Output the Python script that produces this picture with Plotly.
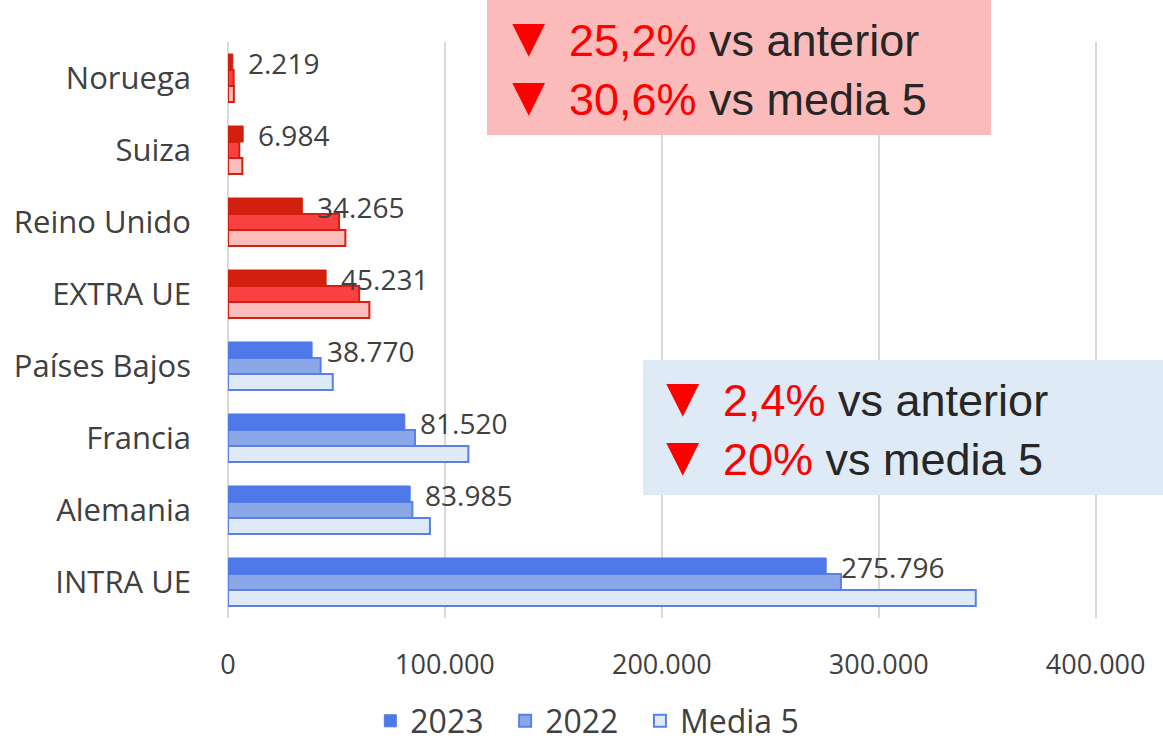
import plotly.graph_objects as go

categories = ["INTRA UE", "Alemania", "Francia", "Países Bajos", "EXTRA UE", "Reino Unido", "Suiza", "Noruega"]
v2023 = [275796, 83985, 81520, 38770, 45231, 34265, 6984, 2219]
v2022 = [282578, 85000, 86200, 42700, 60469, 51200, 5200, 2600]
vmedia5 = [344745, 93100, 110800, 48300, 65174, 54100, 6600, 2700]
labels2023 = ["275.796", "83.985", "81.520", "38.770", "45.231", "34.265", "6.984", "2.219"]
is_eu = [True, True, True, True, False, False, False, False]
xtickvals = [0, 100000, 200000, 300000, 400000]
xticktext = ["0", "100.000", "200.000", "300.000", "400.000"]
series_names = ["Media 5", "2022", "2023"]

box_red_lines = [("25,2%", "vs anterior"), ("30,6%", "vs media 5")]
box_blue_lines = [("2,4%", "vs anterior"), ("20%", "vs media 5")]

BLUE = {"2023": "#4F79E8", "2022": "#8AA8E8", "Media 5": "#DEEAF6", "line": "#5A80E8"}
RED = {"2023": "#D21F0E", "2022": "#F94141", "Media 5": "#FBBCBC", "line": "#D42010"}

W, H = 1163, 742
L, R, T, B = 228, 24, 42, 124
PW, PH = W - L - R, H - T - B


def px(x):
    return (x - L) / PW


def py(y):
    return 1 - (y - T) / PH


TXT = "#404040"
FONT = "'Open Sans', 'Noto Sans', sans-serif"
BOXFONT = "'Liberation Sans', Arial, sans-serif"

fig = go.Figure()
for name, vals in zip(series_names, [vmedia5, v2022, v2023]):
    fills = [(BLUE if eu else RED)[name] for eu in is_eu]
    if name == "2023":
        lines = fills
        lw = 1
    else:
        lines = [(BLUE if eu else RED)["line"] for eu in is_eu]
        lw = 2
    legend_name = name if name == "Media 5" else name + "\u00a0\u00a0"
    fig.add_trace(go.Bar(
        name=legend_name, y=categories, x=vals, orientation="h",
        marker=dict(color=fills, line=dict(color=lines, width=lw)),
        hoverinfo="skip",
    ))

for cat, val, lab in zip(categories, v2023, labels2023):
    fig.add_annotation(x=val, y=cat, xref="x", yref="y", text=lab, showarrow=False,
                       xanchor="left", yanchor="middle", xshift=13, yshift=15,
                       font=dict(family=FONT, size=28, color=TXT))

# text boxes
fig.add_shape(type="rect", xref="paper", yref="paper", x0=px(487), x1=px(991), y0=py(0), y1=py(135),
              fillcolor="#FBBBBB", line=dict(width=0), layer="above")
fig.add_shape(type="rect", xref="paper", yref="paper", x0=px(643), x1=px(1163), y0=py(360), y1=py(495),
              fillcolor="#DEEAF6", line=dict(width=0), layer="above")


def box_text(lines):
    return "<br>".join(
        f"<span style='color:#FF0000'><span style='font-size:56px'>▼</span>&nbsp;{p}</span>"
        f" <span style='color:#262626'>{t}</span>" for p, t in lines)


fig.add_annotation(xref="paper", yref="paper", x=px(499), y=py(66), text=box_text(box_red_lines),
                   showarrow=False, xanchor="left", yanchor="middle", align="left",
                   font=dict(family=BOXFONT, size=45, color="#262626"))
fig.add_annotation(xref="paper", yref="paper", x=px(653), y=py(426), text=box_text(box_blue_lines),
                   showarrow=False, xanchor="left", yanchor="middle", align="left",
                   font=dict(family=BOXFONT, size=45, color="#262626"))

fig.update_layout(
    width=W, height=H,
    margin=dict(l=L, r=R, t=T, b=B, autoexpand=False),
    paper_bgcolor="white", plot_bgcolor="white",
    barmode="group", bargap=1/3, bargroupgap=0,
    font=dict(family=FONT, size=28, color=TXT),
    showlegend=True,
    legend=dict(orientation="h", traceorder="reversed", xref="container", yref="container",
                x=0.505, xanchor="center", y=1 - 721 / H, yanchor="middle",
                font=dict(family=FONT, size=32, color=TXT), itemwidth=30),
    xaxis=dict(range=[0, 420000], tickvals=xtickvals, ticktext=xticktext,
               showgrid=True, gridcolor="#D9D9D9", gridwidth=2,
               zeroline=True, zerolinecolor="#D9D9D9", zerolinewidth=2,
               showline=False, ticks="", ticklabelstandoff=28,
               tickfont=dict(family=FONT, size=27, color=TXT), fixedrange=True),
    yaxis=dict(type="category", categoryorder="array", categoryarray=categories,
               showgrid=False, showline=False, ticks="", ticklabelstandoff=36,
               tickfont=dict(family=FONT, size=31, color=TXT), fixedrange=True),
)

fig.write_html("out.html", config={"displayModeBar": False},
               post_script="document.body.style.margin='0';document.body.style.overflow='hidden';")
